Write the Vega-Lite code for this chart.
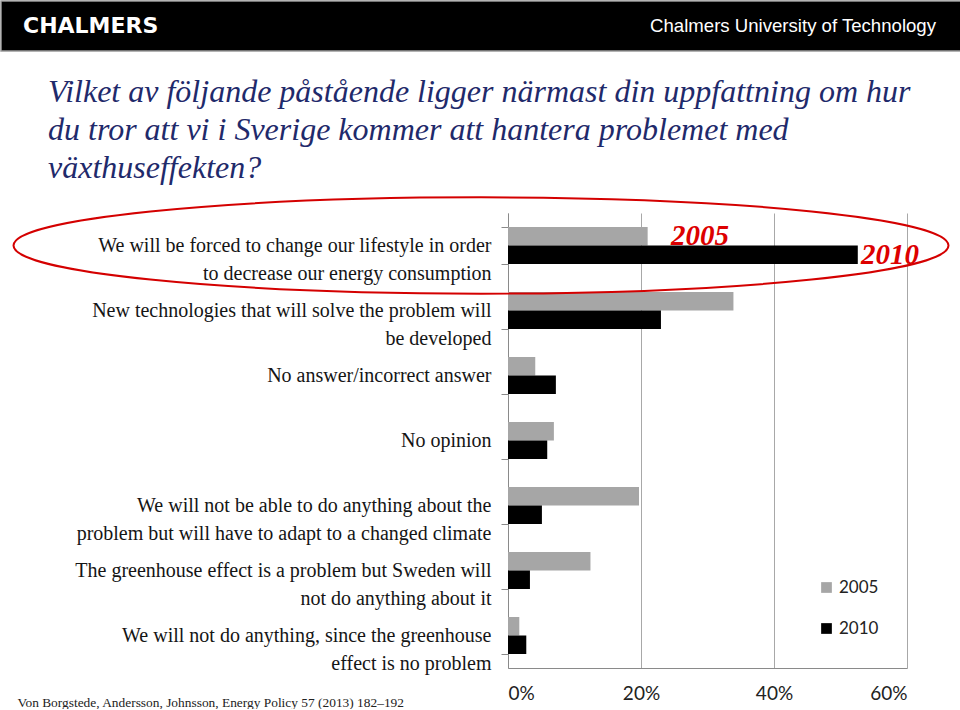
{
  "$schema": "https://vega.github.io/schema/vega-lite/v6.json",
  "padding": 0,
  "background": "white",
  "spacing": 24,
  "config": {"view": {"stroke": null}},
  "vconcat": [
    {
      "width": 960,
      "height": 50,
      "view": {"fill": "#000000", "stroke": "#9a9a9a", "strokeWidth": 1.5},
      "data": {"values": [
        {"pos": "left", "text": "CHALMERS"},
        {"pos": "right", "text": "Chalmers University of Technology"}
      ]},
      "encoding": {
        "x": {"field": "pos", "type": "nominal", "scale": {"type": "point", "padding": 0}, "axis": null},
        "text": {"field": "text"}
      },
      "layer": [
        {
          "transform": [{"filter": "datum.pos === 'left'"}],
          "mark": {"type": "text", "align": "left", "dx": 22, "baseline": "middle", "font": "DejaVu Sans", "fontWeight": "bold", "fontSize": 22, "color": "#ffffff"}
        },
        {
          "transform": [{"filter": "datum.pos === 'right'"}],
          "mark": {"type": "text", "align": "right", "dx": -25, "baseline": "middle", "font": "Liberation Sans", "fontSize": 18.6, "color": "#ffffff"}
        }
      ]
    },
    {
      "bounds": "flush",
      "spacing": 0,
      "hconcat": [
        {
          "width": 507,
          "height": 455,
          "data": {"values": []},
          "mark": "point"
        },
        {
          "width": 399,
          "height": 455,
          "title": {
            "text": ["Vilket av följande påstående ligger närmast din uppfattning om hur", "du tror att vi i Sverige kommer att hantera problemet med", "växthuseffekten?"],
            "anchor": "start",
            "frame": "group",
            "dx": -460,
            "offset": 8,
            "font": "Liberation Serif",
            "fontSize": 32,
            "fontStyle": "italic",
            "fontWeight": "normal",
            "color": "#1f2a6b",
            "lineHeight": 38
          },
          "layer": [
            {
              "data": {"values": [
                {"cat": "We will be forced to change our lifestyle in order\nto decrease our energy consumption", "year": "2005", "value": 0.210},
                {"cat": "We will be forced to change our lifestyle in order\nto decrease our energy consumption", "year": "2010", "value": 0.526},
                {"cat": "New technologies that will solve the problem will\nbe developed", "year": "2005", "value": 0.339},
                {"cat": "New technologies that will solve the problem will\nbe developed", "year": "2010", "value": 0.230},
                {"cat": "No answer/incorrect answer", "year": "2005", "value": 0.041},
                {"cat": "No answer/incorrect answer", "year": "2010", "value": 0.072},
                {"cat": "No opinion", "year": "2005", "value": 0.069},
                {"cat": "No opinion", "year": "2010", "value": 0.059},
                {"cat": "We will not be able to do anything about the\nproblem but will have to adapt to a changed climate", "year": "2005", "value": 0.197},
                {"cat": "We will not be able to do anything about the\nproblem but will have to adapt to a changed climate", "year": "2010", "value": 0.051},
                {"cat": "The greenhouse effect is a problem but Sweden will\nnot do anything about it", "year": "2005", "value": 0.124},
                {"cat": "The greenhouse effect is a problem but Sweden will\nnot do anything about it", "year": "2010", "value": 0.033},
                {"cat": "We will not do anything, since the greenhouse\neffect is no problem", "year": "2005", "value": 0.017},
                {"cat": "We will not do anything, since the greenhouse\neffect is no problem", "year": "2010", "value": 0.0275}
              ]},
              "mark": {"type": "bar"},
              "encoding": {
                "y": {
                  "field": "cat", "type": "nominal",
                  "scale": {
                    "domain": [
                      "We will be forced to change our lifestyle in order\nto decrease our energy consumption",
                      "New technologies that will solve the problem will\nbe developed",
                      "No answer/incorrect answer",
                      "No opinion",
                      "We will not be able to do anything about the\nproblem but will have to adapt to a changed climate",
                      "The greenhouse effect is a problem but Sweden will\nnot do anything about it",
                      "We will not do anything, since the greenhouse\neffect is no problem"
                    ],
                    "paddingInner": 0.43,
                    "paddingOuter": 0.215
                  },
                  "axis": {
                    "title": null,
                    "grid": false,
                    "domainColor": "#8a8a8a",
                    "tickColor": "#8a8a8a",
                    "tickSize": 7,
                    "tickBand": "extent",
                    "labelFont": "Liberation Serif",
                    "labelFontSize": 20,
                    "labelColor": "#151515",
                    "labelLineHeight": 28,
                    "labelPadding": 10,
                    "labelLimit": 700,
                    "labelExpr": "split(datum.label, '\\n')"
                  }
                },
                "x": {
                  "field": "value", "type": "quantitative",
                  "scale": {"domain": [0, 0.6], "nice": false},
                  "axis": {
                    "values": [0, 0.2, 0.4, 0.6],
                    "format": "%",
                    "grid": true,
                    "gridColor": "#a8a8a8",
                    "domainColor": "#8a8a8a",
                    "ticks": false,
                    "labelFont": "Lato",
                    "labelFontSize": 19,
                    "labelColor": "#222222",
                    "labelPadding": 16,
                    "title": "Von Borgstede, Andersson, Johnsson, Energy Policy 57 (2013) 182–192",
                    "titleFont": "Liberation Serif",
                    "titleFontSize": 13.4,
                    "titleFontWeight": "normal",
                    "titleColor": "#222222",
                    "titleAlign": "left",
                    "titleAnchor": "start",
                    "titleBaseline": "middle",
                    "titleX": -491,
                    "titleY": 34
                  }
                },
                "yOffset": {"field": "year", "type": "nominal", "scale": {"domain": ["2005", "2010"], "paddingInner": 0, "paddingOuter": 0}},
                "color": {
                  "field": "year", "type": "nominal",
                  "scale": {"domain": ["2005", "2010"], "range": ["#a6a6a6", "#000000"]},
                  "legend": {
                    "title": null,
                    "orient": "none",
                    "legendX": 817,
                    "legendY": 578,
                    "padding": 0,
                    "symbolType": "square",
                    "symbolSize": 115,
                    "symbolStrokeWidth": 0,
                    "labelFont": "Lato",
                    "labelFontSize": 17,
                    "labelColor": "#222222",
                    "labelOffset": 4,
                    "rowPadding": 23
                  }
                }
              }
            },
            {
              "data": {"values": [
                {"cat": "We will be forced to change our lifestyle in order\nto decrease our energy consumption", "year": "2005", "label": "2005", "value": 0.245},
                {"cat": "We will be forced to change our lifestyle in order\nto decrease our energy consumption", "year": "2010", "label": "2010", "value": 0.531}
              ]},
              "mark": {"type": "text", "align": "left", "baseline": "middle", "font": "Liberation Serif", "fontStyle": "italic", "fontWeight": "bold", "fontSize": 29, "color": "#dd0000"},
              "encoding": {
                "y": {"field": "cat", "type": "nominal"},
                "yOffset": {"field": "year", "type": "nominal"},
                "x": {"field": "value", "type": "quantitative"},
                "text": {"field": "label"}
              }
            },
            {
              "data": {"values": [
                {"cat": "We will be forced to change our lifestyle in order\nto decrease our energy consumption", "value": -0.0406}
              ]},
              "mark": {"type": "point", "shape": "M-1,0A1,0.103,0,1,1,1,0A1,0.103,0,1,1,-1,0", "size": 874225, "filled": false, "stroke": "#d40000", "strokeWidth": 2, "opacity": 1},
              "encoding": {
                "y": {"field": "cat", "type": "nominal"},
                "x": {"field": "value", "type": "quantitative"}
              }
            }
          ]
        }
      ]
    }
  ]
}
